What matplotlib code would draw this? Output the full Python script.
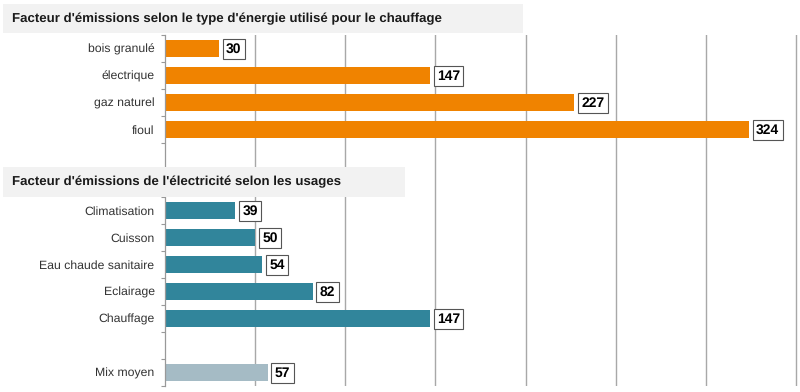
import matplotlib
matplotlib.use("Agg")
from matplotlib import pyplot as plt
from matplotlib.patches import Rectangle

plt.rcParams['font.family'] = ['Liberation Sans', 'DejaVu Sans']
plt.rcParams['text.hinting'] = 'no_hinting'

# chauffage par type d'energie
energie_labels = ['bois granulé', 'électrique', 'gaz naturel', 'fioul']
energie_values = [30, 147, 227, 324]

# electricite selon les usages
usage_labels = ['Climatisation', 'Cuisson', 'Eau chaude sanitaire', 'Eclairage', 'Chauffage']
usage_values = [39, 50, 54, 82, 147]

mix_label = 'Mix moyen'
mix_value = 57

title_top = "Facteur d'émissions selon le type d'énergie utilisé pour le chauffage"
title_bottom = "Facteur d'émissions de l'électricité selon les usages"

c_orange = '#f08300'
c_teal = '#31859b'
c_mix = '#a5bbc5'

W, H = 800, 392
fig = plt.figure(figsize=(W / 100, H / 100), dpi=100)
fig.patch.set_facecolor('white')

# axes position in pixels
left_px, right_px = 165, 799.5
top_px, bot_px = 35, 386
ax = fig.add_axes([left_px / W, 1 - bot_px / H, (right_px - left_px) / W, (bot_px - top_px) / H])

# row layout: 4 energie rows, 2 blank rows (title), 5 usages, 1 blank, mix
rows_e = list(range(len(energie_labels)))
start_u = len(energie_labels) + 2
rows_u = [start_u + i for i in range(len(usage_labels))]
row_mix = rows_u[-1] + 2
nrows = row_mix + 1

bh = 0.66
ax.barh(rows_e, energie_values, height=bh, color=c_orange, zorder=2)
ax.barh(rows_u, usage_values, height=bh, color=c_teal, zorder=2)
ax.barh([row_mix], [mix_value], height=bh, color=c_mix, zorder=2)

all_rows = rows_e + rows_u + [row_mix]
all_vals = energie_values + usage_values + [mix_value]
for r, v in zip(all_rows, all_vals):
    ax.annotate(str(v), xy=(v, r), xytext=(7, -0.5), textcoords='offset pixels',
                ha='left', va='center', fontsize=10, fontweight='bold', color='black',
                bbox=dict(boxstyle='square,pad=0.24', fc='white', ec='#555555', lw=0.8),
                zorder=3)

ax.set_xlim(0, 352)
ax.set_ylim(nrows - 0.5, -0.5)
ax.set_xticks([50, 100, 150, 200, 250, 300, 350])
ax.set_xticklabels([])
ax.tick_params(axis='x', length=0)
ax.grid(axis='x', color='#a8a8a8', lw=1.0, zorder=0)

ax.set_yticks(all_rows)
ax.set_yticklabels(energie_labels + usage_labels + [mix_label], fontsize=8.8, color='#333333')
ax.tick_params(axis='y', which='major', length=0, pad=7.5)
ax.set_yticks([i - 0.5 for i in range(nrows + 1)], minor=True)
ax.tick_params(axis='y', which='minor', length=3, width=0.8, color='#999999', direction='out')

for s in ['top', 'right', 'bottom']:
    ax.spines[s].set_visible(False)
ax.spines['left'].set_color('#999999')
ax.spines['left'].set_linewidth(0.9)


def title_box(x0, y0, x1, y1, text):
    fig.add_artist(Rectangle((x0 / W, 1 - y1 / H), (x1 - x0) / W, (y1 - y0) / H,
                             transform=fig.transFigure, fc='#f2f2f2', ec='none', zorder=5))
    fig.text(12 / W, 1 - (y0 + y1) / 2 / H, text, ha='left', va='center',
             fontsize=9.5, fontweight='bold', color='#1a1a1a', zorder=6)


title_box(3, 4, 523, 33, title_top)
title_box(3, 167, 405, 197, title_bottom)

fig.savefig('out.png', dpi=100)
